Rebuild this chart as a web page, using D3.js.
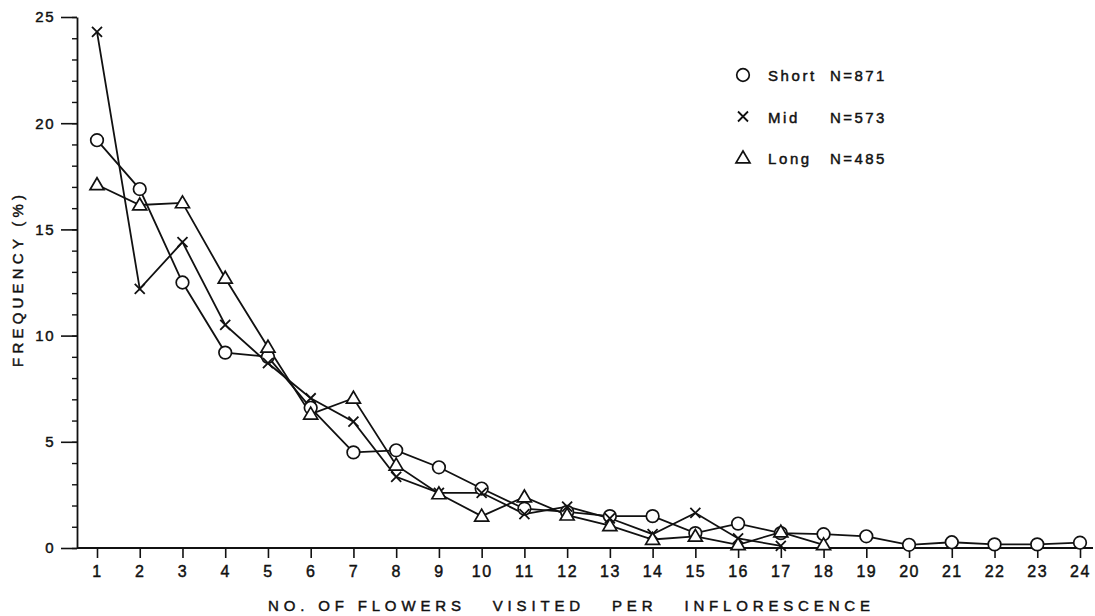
<!DOCTYPE html>
<html>
<head>
    <title></title>
    <meta charset="utf-8" />
    <style>
        body { margin: 0; background: #fff; }
        svg { display: block; }
        text { font-family: "Liberation Sans", Arial, sans-serif; fill: #111; stroke: #111; stroke-width: 0.45px; }
    </style>
    <script src="https://d3js.org/d3.v7.min.js"></script>
</head>
<body>
<svg id="main-graph"></svg>
<script>

// flowers visited per inflorescence
let flowers = d3.range(1, 25);
let xTickLabels = flowers.map(String);
let yTicks = [0, 5, 10, 15, 20, 25];

// frequency (%) for each style morph
let shortVals = [19.2, 16.9, 12.5, 9.2, 9.0, 6.6, 4.5, 4.6, 3.8, 2.8, 1.85, 1.7, 1.5, 1.5,
                 0.7, 1.15, 0.7, 0.65, 0.55, 0.15, 0.27, 0.17, 0.17, 0.25];
let midVals   = [24.3, 12.2, 14.4, 10.5, 8.7, 7.05, 5.95, 3.35, 2.6, 2.6, 1.6, 1.95, 1.4, 0.65,
                 1.65, 0.45, 0.1];
let longVals  = [17.1, 16.15, 16.25, 12.7, 9.45, 6.3, 7.05, 3.9, 2.55, 1.5, 2.4, 1.55, 1.05, 0.4,
                 0.55, 0.15, 0.75, 0.15];

let seriesNames = ["Short", "Mid", "Long"];
let seriesN = ["N=871", "N=573", "N=485"];
let seriesMarks = ["circle", "cross", "triangle"];
let seriesVals = [shortVals, midVals, longVals];

/* layout */

let realW = 1095;
let realH = 616;

let svg = d3.select("#main-graph")
    .attr("width", realW)
    .attr("height", realH);

let x = d3.scaleLinear().domain([1, 24]).range([97, 1080]);
let y = d3.scaleLinear().domain([0, 25]).range([548, 17]);

let ink = "#111";

// y axis with minor ticks
let yAxisG = svg.append("g").attr("transform", "translate(77,0)");
yAxisG.call(d3.axisLeft(y).tickValues(d3.range(0, 26)).tickSize(5).tickFormat(""));
yAxisG.call(g => g.select(".domain").remove());
yAxisG.selectAll("line").attr("stroke", ink).attr("stroke-width", 1.4);

let yMajor = svg.append("g").attr("transform", "translate(77,0)")
    .call(d3.axisLeft(y).tickValues(yTicks).tickSize(16).tickPadding(6).tickSizeOuter(0));
yMajor.select(".domain").attr("stroke", ink).attr("stroke-width", 1.8);
yMajor.selectAll("line").attr("stroke", ink).attr("stroke-width", 1.6);
yMajor.selectAll("text")
    .style("font-size", "15px")
    .style("letter-spacing", "1.5px")
    .attr("fill", ink);

// x axis line
svg.append("line")
    .attr("x1", 77).attr("x2", 1093)
    .attr("y1", y(0)).attr("y2", y(0))
    .attr("stroke", ink).attr("stroke-width", 1.8);

let xAxisG = svg.append("g").attr("transform", "translate(0," + y(0) + ")")
    .call(d3.axisBottom(x).tickValues(flowers).tickSize(10).tickPadding(8)
        .tickFormat((d, i) => xTickLabels[i]).tickSizeOuter(0));
xAxisG.select(".domain").remove();
xAxisG.selectAll("line").attr("stroke", ink).attr("stroke-width", 1.6);
xAxisG.selectAll("text")
    .style("font-size", "16px")
    .style("letter-spacing", "1.5px")
    .attr("fill", ink);

// axis titles
svg.append("text")
    .attr("x", 569).attr("y", 611)
    .attr("text-anchor", "middle")
    .attr("textLength", 602)
    .attr("lengthAdjust", "spacing")
    .style("font-size", "15px")
    .style("white-space", "pre")
    .text("NO. OF FLOWERS   VISITED   PER   INFLORESCENCE");

svg.append("text")
    .attr("transform", "translate(23,281) rotate(-90)")
    .attr("text-anchor", "middle")
    .attr("textLength", 172)
    .attr("lengthAdjust", "spacing")
    .style("font-size", "15px")
    .text("FREQUENCY (%)");

/* series */

let line = d3.line()
    .x((d, i) => x(flowers[i]))
    .y(d => y(d));

function drawMark(g, kind, cx, cy) {
    if (kind === "circle") {
        g.append("circle")
            .attr("cx", cx).attr("cy", cy).attr("r", 6.3)
            .attr("fill", "#fff").attr("stroke", ink).attr("stroke-width", 1.7);
    } else if (kind === "triangle") {
        let s = 7;
        g.append("path")
            .attr("d", "M" + cx + "," + (cy - s) + "L" + (cx + s) + "," + (cy + s * 0.7) +
                "L" + (cx - s) + "," + (cy + s * 0.7) + "Z")
            .attr("fill", "#fff").attr("stroke", ink).attr("stroke-width", 1.7);
    } else {
        let s = 5;
        g.append("path")
            .attr("d", "M" + (cx - s) + "," + (cy - s) + "L" + (cx + s) + "," + (cy + s) +
                "M" + (cx + s) + "," + (cy - s) + "L" + (cx - s) + "," + (cy + s))
            .attr("fill", "none").attr("stroke", ink).attr("stroke-width", 1.8);
    }
}

let seriesG = svg.append("g");
seriesVals.forEach((vals, k) => {
    seriesG.append("path")
        .datum(vals)
        .attr("d", line)
        .attr("fill", "none")
        .attr("stroke", ink)
        .attr("stroke-width", 1.8);
});
seriesVals.forEach((vals, k) => {
    let g = seriesG.append("g");
    vals.forEach((v, i) => drawMark(g, seriesMarks[k], x(flowers[i]), y(v)));
});

/* legend */

let legendG = svg.append("g").attr("transform", "translate(743,75)");
seriesNames.forEach((name, k) => {
    let row = legendG.append("g").attr("transform", "translate(0," + (k * 41.5) + ")");
    drawMark(row, seriesMarks[k], 0, 0);
    row.append("text")
        .attr("x", 25).attr("y", 6)
        .style("font-size", "15px")
        .style("letter-spacing", "2.6px")
        .text(name);
    row.append("text")
        .attr("x", 87).attr("y", 6)
        .style("font-size", "15px")
        .style("letter-spacing", "2.4px")
        .text(seriesN[k]);
});

</script>
</body>
</html>
